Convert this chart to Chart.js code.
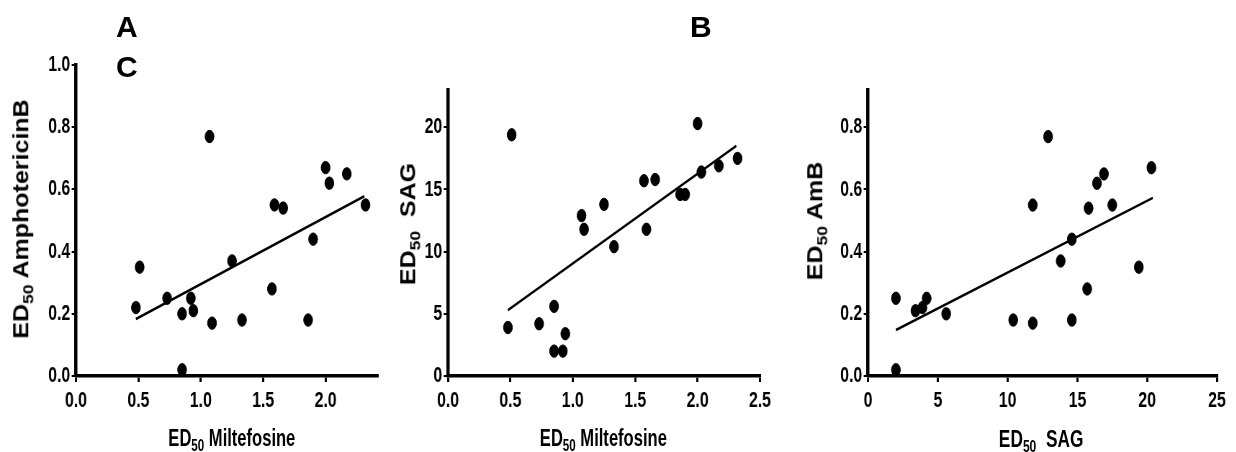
<!DOCTYPE html>
<html>
<head>
<meta charset="utf-8">
<script src="https://cdn.jsdelivr.net/npm/chart.js@4.4.1/dist/chart.umd.min.js"></script>
<style>
html, body { margin: 0; padding: 0; background: #fff; overflow: hidden; }
#page { position: relative; width: 1236px; height: 452px; overflow: hidden; }
/* the original figure is squeezed horizontally; reproduce that with a scaleX */
#wrap { position: absolute; left: 0; top: 0; width: 1717px; height: 452px; transform: scaleX(0.72); transform-origin: 0 0; }
canvas { position: absolute; left: 0; top: 0; }
.lbl {
    position: absolute; color: #000; font-weight: bold; line-height: 1; white-space: nowrap;
    font-family: "Liberation Sans", Arial, sans-serif;
}
.rot { transform: translate(-50%, -50%) scaleX(0.88) rotate(-90deg); }
.ctr { transform: translateX(-50%); }
sub { font-size: 0.7em; vertical-align: -0.3em; line-height: 0; }
</style>
</head>
<body>
<div id="page">
    <div id="wrap">
        <canvas id="panelA" width="1717" height="452"></canvas>
        <canvas id="panelB" width="1717" height="452"></canvas>
        <canvas id="panelC" width="1717" height="452"></canvas>

        <div class="lbl ctr" style="left:322px;top:427px;font-size:23px;">ED<sub>50</sub> Miltefosine</div>
        <div class="lbl ctr" style="left:838px;top:427px;font-size:23px;">ED<sub>50</sub> Miltefosine</div>
        <div class="lbl ctr" style="left:1446px;top:427px;font-size:24px;">ED<sub>50</sub>&nbsp; SAG</div>
    </div>
    <div class="lbl rot" style="left:21px;top:219px;font-size:25px;">ED<sub>50</sub> AmphotericinB</div>
    <div class="lbl rot" style="left:408px;top:224px;font-size:25px;">ED<sub>50</sub>&nbsp; SAG</div>
    <div class="lbl rot" style="left:815px;top:221px;font-size:25px;">ED<sub>50</sub> AmB</div>

    <div class="lbl" style="left:116px;top:12px;font-size:30px;">A</div>
    <div class="lbl" style="left:116px;top:52px;font-size:30px;">C</div>
    <div class="lbl" style="left:690px;top:12px;font-size:30px;">B</div>
</div>
<script>
// one entry per isolate, same order in every array
const miltefosine = [0.48, 0.51, 0.73, 0.85, 0.85, 0.92, 0.94, 1.07, 1.09, 1.25,
                     1.33, 1.57, 1.59, 1.66, 1.86, 1.90, 2.00, 2.03, 2.17, 2.32];
const amphotericinB = [0.22, 0.35, 0.25, 0.20, 0.02, 0.25, 0.21, 0.77, 0.17, 0.37,
                       0.18, 0.28, 0.55, 0.54, 0.18, 0.44, 0.67, 0.62, 0.65, 0.55];
const sag = [3.9, 19.4, 4.2, 5.6, 2.0, 2.0, 3.4, 12.9, 11.8, 13.8,
             10.4, 15.7, 11.8, 15.8, 14.6, 14.6, 20.3, 16.4, 16.9, 17.5];

// regression lines (end points)
const fitA_x = [0.48, 2.31], fitA_y = [0.183, 0.578];
const fitB_x = [0.48, 2.31], fitB_y = [5.3, 18.5];
const fitC_x = [2.0, 20.4], fitC_y = [0.148, 0.573];

const ticksA_x = [0, 0.5, 1.0, 1.5, 2.0];
const ticksA_y = [0, 0.2, 0.4, 0.6, 0.8, 1.0];
const ticksB_x = [0, 0.5, 1.0, 1.5, 2.0, 2.5];
const ticksB_y = [0, 5, 10, 15, 20];
const ticksC_x = [0, 5, 10, 15, 20, 25];
const ticksC_y = [0, 0.2, 0.4, 0.6, 0.8];

const SQUEEZE = 0.72;           // same as the css scaleX
const W = 1717, H = 452, X_AXIS_H = 40;
const TICK_FONT = { family: '"Liberation Sans", Arial, sans-serif', weight: "bold", size: 22 };

function toPoints(xs, ys) {
    return xs.map((x, i) => ({ x: x, y: ys[i] }));
}

function axis(max, ticks, decimals, isX, size) {
    return {
        type: "linear",
        min: 0,
        max: max,
        afterBuildTicks: s => { s.ticks = ticks.map(v => ({ value: v })); },
        afterFit: s => { if (isX) s.height = size; else s.width = size; },
        border: { display: true, color: "#000", width: isX ? 3.5 : 4.5 },
        grid: {
            drawOnChartArea: false, drawTicks: true, tickLength: 6,
            color: "#000", lineWidth: isX ? 3 : 2
        },
        ticks: {
            color: "#000",
            font: TICK_FONT,
            padding: isX ? 6 : 2,
            maxRotation: 0,
            autoSkip: false,
            callback: v => Number(v).toFixed(decimals),
        },
    };
}

function makePanel(id, p) {
    // p.area is in page pixels, turn it into canvas pixels
    const left = p.area.left / SQUEEZE, right = p.area.right / SQUEEZE;
    const ctx = document.getElementById(id).getContext("2d");
    return new Chart(ctx, {
        type: "scatter",
        data: {
            datasets: [
                {
                    data: toPoints(p.xs, p.ys),
                    backgroundColor: "#000",
                    borderColor: "#000",
                    pointRadius: 6.2,
                    pointStyle: "circle",
                },
                {
                    data: toPoints(p.fitX, p.fitY),
                    showLine: true,
                    borderColor: "#000",
                    borderWidth: 2.6,
                    pointRadius: 0,
                },
            ],
        },
        options: {
            responsive: false,
            animation: false,
            events: [],
            layout: {
                padding: {
                    left: 0,
                    top: p.area.top,
                    right: W - right,
                    bottom: H - p.area.bottom - X_AXIS_H,
                },
            },
            plugins: { legend: { display: false }, tooltip: { enabled: false } },
            scales: {
                x: axis(p.xMax, p.xTicks, p.xDec, true, X_AXIS_H),
                y: axis(p.yMax, p.yTicks, p.yDec, false, left),
            },
        },
    });
}

makePanel("panelA", {
    xs: miltefosine, ys: amphotericinB, fitX: fitA_x, fitY: fitA_y,
    xMax: 2.42, yMax: 1.0, xTicks: ticksA_x, yTicks: ticksA_y, xDec: 1, yDec: 1,
    area: { left: 76, top: 65, right: 378, bottom: 376 },
});
makePanel("panelB", {
    xs: miltefosine, ys: sag, fitX: fitB_x, fitY: fitB_y,
    xMax: 2.5, yMax: 23, xTicks: ticksB_x, yTicks: ticksB_y, xDec: 1, yDec: 0,
    area: { left: 448, top: 90, right: 760, bottom: 376 },
});
makePanel("panelC", {
    xs: sag, ys: amphotericinB, fitX: fitC_x, fitY: fitC_y,
    xMax: 25, yMax: 0.92, xTicks: ticksC_x, yTicks: ticksC_y, xDec: 0, yDec: 1,
    area: { left: 868, top: 90, right: 1217, bottom: 376 },
});
</script>
</body>
</html>
